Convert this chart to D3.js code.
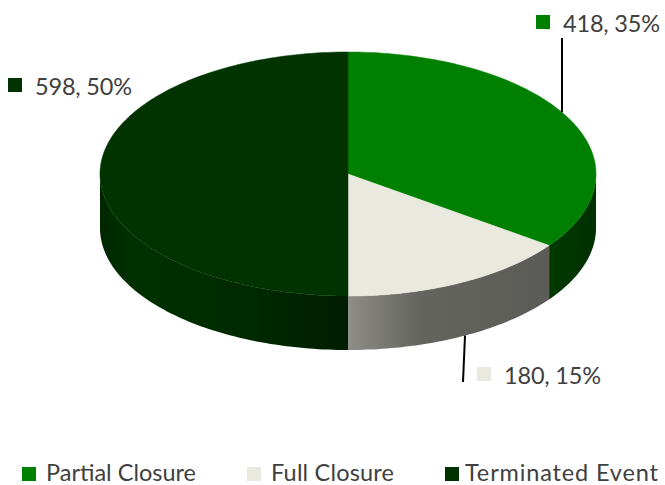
<!DOCTYPE html>
<html>
<head>
<meta charset="utf-8">
<script src="https://cdn.jsdelivr.net/npm/d3@7"></script>
<style>
  body { margin: 0; background: #fff; }
  text { font-family: Lato, "Open Sans", sans-serif; fill: #404040; }
</style>
</head>
<body>
<svg width="665" height="485"></svg>
<script>
// **** data ****
var categories = ["Partial Closure", "Full Closure", "Terminated Event"];
var values = [418, 180, 598];
var topColors = ["#008000", "#eae9df", "#003300"];

// **** layout ****
var cx = 348, cy = 174, rx = 248, ry = 122, depth = 54;

var svg = d3.select("svg");
var defs = svg.append("defs");

// side shading gradients (left -> right)
var sideStops = [
    [[0, "#003a00"], [1, "#002f00"]],
    [[0, "#8e8d87"], [0.35, "#65655f"], [1, "#5b5b57"]],
    [[0, "#002600"], [0.12, "#003000"], [0.6, "#002a00"], [1, "#001d00"]]
];

var total = d3.sum(values);
var pie = d3.pie().sort(null).startAngle(0).endAngle(2 * Math.PI);
var arcs = pie(values);

function px(t) { return cx + rx * Math.sin(t); }
function py(t) { return cy - ry * Math.cos(t); }

function topPath(a0, a1) {
    var n = Math.max(2, Math.ceil((a1 - a0) / 0.02));
    var pts = d3.range(n + 1).map(function(i) {
        var t = a0 + (a1 - a0) * i / n;
        return [px(t), py(t)];
    });
    return "M" + cx + "," + cy + "L" + pts.map(function(p) { return p.join(","); }).join("L") + "Z";
}

function sidePath(a0, a1) {
    var s = Math.max(a0, Math.PI / 2), e = Math.min(a1, 3 * Math.PI / 2);
    if (e <= s) return null;
    var n = Math.max(2, Math.ceil((e - s) / 0.02));
    var up = d3.range(n + 1).map(function(i) {
        var t = s + (e - s) * i / n;
        return [px(t), py(t)];
    });
    var down = up.slice().reverse().map(function(p) { return [p[0], p[1] + depth]; });
    return "M" + up.map(function(p) { return p.join(","); }).join("L") +
        "L" + down.map(function(p) { return p.join(","); }).join("L") + "Z";
}

arcs.forEach(function(d, i) {
    var s = Math.max(d.startAngle, Math.PI / 2), e = Math.min(d.endAngle, 3 * Math.PI / 2);
    var xs = [px(s), px(e)];
    var g = defs.append("linearGradient")
        .attr("id", "side" + i)
        .attr("gradientUnits", "userSpaceOnUse")
        .attr("x1", d3.min(xs)).attr("x2", d3.max(xs))
        .attr("y1", 0).attr("y2", 0);
    sideStops[i].forEach(function(st) {
        g.append("stop").attr("offset", st[0]).attr("stop-color", st[1]);
    });
});

// sides first
svg.append("g").selectAll("path.side")
    .data(arcs.filter(function(d) { return sidePath(d.startAngle, d.endAngle); }))
    .enter()
    .append("path")
    .attr("class", "side")
    .attr("d", function(d) { return sidePath(d.startAngle, d.endAngle); })
    .attr("fill", function(d) { return "url(#side" + d.index + ")"; });

// tops
svg.append("g").selectAll("path.top")
    .data(arcs)
    .enter()
    .append("path")
    .attr("class", "top")
    .attr("d", function(d) { return topPath(d.startAngle, d.endAngle); })
    .attr("fill", function(d, i) { return topColors[i]; })
    .attr("stroke", function(d, i) { return topColors[i]; })
    .attr("stroke-width", 0.5);

// **** data labels ****
// square x / text baseline y; lineX = leader line x (null = no leader)
var labelPos = [
    { x: 536, y: 32, lineX: 562, lineEnd: 38, side: false },
    { x: 477, y: 384, lineX: 465, lineEnd: 382, side: true },
    { x: 8, y: 95, lineX: null }
];

arcs.forEach(function(d, i) {
    var lp = labelPos[i];
    var pct = Math.round(d.value / total * 100);
    if (lp.lineX !== null) {
        // anchor on the ellipse edge at lineX inside the slice
        var t0 = Math.asin((lp.lineX - cx) / rx);
        var t = (d.startAngle + d.endAngle) / 2 > Math.PI / 2 ? Math.PI - t0 : t0;
        var ay = py(t) + (lp.side ? depth : 0);
        svg.append("line")
            .attr("x1", lp.lineX).attr("y1", ay)
            .attr("x2", lp.lineX - (lp.side ? 2 : 0)).attr("y2", lp.lineEnd)
            .attr("stroke", "#000").attr("stroke-width", 2);
    }
    svg.append("rect")
        .attr("x", lp.x).attr("y", lp.y - 17)
        .attr("width", 14).attr("height", 14)
        .attr("fill", topColors[i]);
    svg.append("text")
        .attr("x", lp.x + 27).attr("y", lp.y)
        .attr("font-size", 23.5)
        .attr("textLength", 97)
        .attr("lengthAdjust", "spacing")
        .text(d.value + ", " + pct + "%");
});

// **** legend ****
var legendX = [22, 247, 445];
var legendW = [150, 123, 193];
var legend = svg.append("g").selectAll("g.item")
    .data(categories)
    .enter()
    .append("g")
    .attr("class", "item")
    .attr("transform", function(d, i) { return "translate(" + legendX[i] + ",481)"; });

legend.append("rect")
    .attr("x", 0).attr("y", -14)
    .attr("width", 14).attr("height", 14)
    .attr("fill", function(d, i) { return topColors[i]; });

legend.append("text")
    .attr("x", function(d, i) { return i === 2 ? 20 : 24; })
    .attr("y", 0)
    .attr("font-size", 23.5)
    .attr("textLength", function(d, i) { return legendW[i]; })
    .attr("lengthAdjust", "spacing")
    .text(function(d) { return d; });
</script>
</body>
</html>
